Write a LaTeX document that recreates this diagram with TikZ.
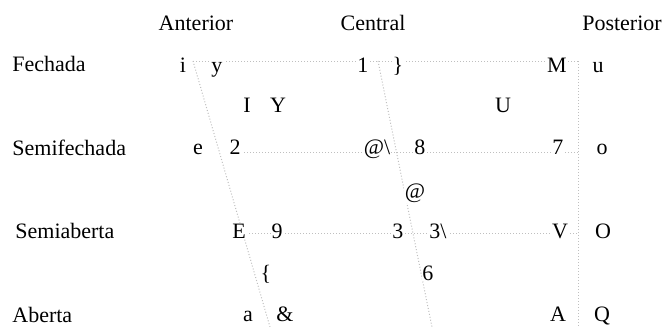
\documentclass[tikz,border=0pt]{standalone}
\usepackage{fontspec}
\setmainfont{Liberation Serif}
\usetikzlibrary{backgrounds}

\begin{document}
\begin{tikzpicture} [
    x=0.5pt, y=-0.5pt,
    font=\fontsize{11}{13}\selectfont,
  ]

  \tikzstyle{vowel} = [
    anchor=base,
    fill=white,
    inner sep=0.5pt,
  ]
  \tikzstyle{heading} = [
    anchor=base,
    inner sep=0pt,
  ]
  \tikzstyle{rowlabel} = [
    heading,
    anchor=base west,
  ]
  \tikzstyle{gridline} = [
    densely dotted,
    line width=0.5pt,
    black!25,
  ]

  \useasboundingbox (0,0) rectangle (666,327);

  % headings
  \node[heading]  (ant)  at (196,30)  {Anterior};
  \node[heading]  (cen)  at (373,30)  {Central};
  \node[heading]  (post) at (622,30)  {Posterior};

  \node[rowlabel] (fech)  at (12,71)  {Fechada};
  \node[rowlabel] (sfech) at (12,155) {Semifechada};
  \node[rowlabel] (sab)   at (15,238) {Semiaberta};
  \node[rowlabel] (ab)    at (12,322) {Aberta};

  % chart corners
  \coordinate (tl) at (193,61);
  \coordinate (tc) at (378,61);
  \coordinate (tr) at (578,61);
  \coordinate (bl) at (270,327);
  \coordinate (bc) at (432,327);
  \coordinate (br) at (578,327);
  \coordinate (sfl) at (241,152);
  \coordinate (sfr) at (578,152);
  \coordinate (sal) at (243,233);
  \coordinate (sar) at (578,233);

  % fechada
  \node[vowel] (vi)    at (183,72)  {i};
  \node[vowel] (vy)    at (217,72)  {y};
  \node[vowel] (vone)  at (363,72)  {1};
  \node[vowel] (vrbr)  at (398,72)  {\}};
  \node[vowel] (vM)    at (557,72)  {M};
  \node[vowel] (vu)    at (598,72)  {u};

  \node[vowel] (vI)    at (247,112) {I};
  \node[vowel] (vY)    at (278,112) {Y};
  \node[vowel] (vU)    at (503,112) {U};

  % semifechada
  \node[vowel] (ve)    at (198,154) {e};
  \node[vowel] (vtwo)  at (235,154) {2};
  \node[vowel] (vatb)  at (377,154) {@\textbackslash};
  \node[vowel] (veig)  at (420,154) {8};
  \node[vowel] (vsev)  at (558,154) {7};
  \node[vowel] (vo)    at (602,154) {o};

  \node[vowel] (vat)   at (415,198) {@};

  % semiaberta
  \node[vowel] (vE)    at (239,238) {E};
  \node[vowel] (vnin)  at (277,238) {9};
  \node[vowel] (vthr)  at (398,238) {3};
  \node[vowel] (vthrb) at (438,238) {3\textbackslash};
  \node[vowel] (vV)    at (560,238) {V};
  \node[vowel] (vO)    at (603,238) {O};

  \node[vowel] (vlbr)  at (266,280) {\{};
  \node[vowel] (vsix)  at (428,280) {6};

  % aberta
  \node[vowel] (va)    at (248,321) {a};
  \node[vowel] (vamp)  at (285,321) {\&};
  \node[vowel] (vA)    at (558,321) {A};
  \node[vowel] (vQ)    at (602,321) {Q};

  \begin{pgfonlayer}{background}
    \draw[gridline] (tl) -- (tr);
    \draw[gridline] (sfl) -- (sfr);
    \draw[gridline] (sal) -- (sar);
    \draw[gridline] (tl) -- (bl);
    \draw[gridline] (tc) -- (bc);
    \draw[gridline] (tr) -- (br);
  \end{pgfonlayer}

\end{tikzpicture}
\end{document}
